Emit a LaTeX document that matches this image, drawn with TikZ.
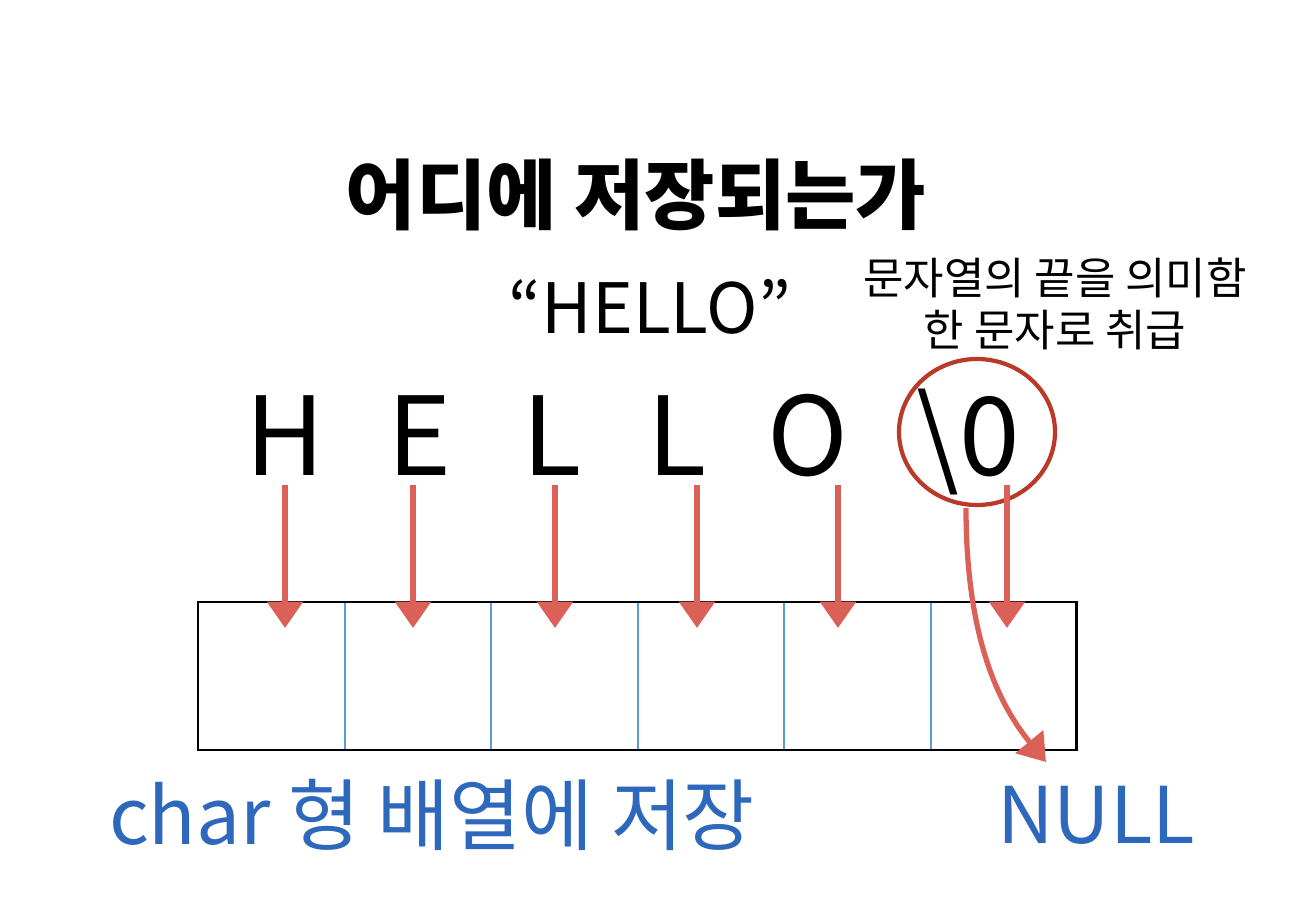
\documentclass[tikz,border=0pt]{standalone}
\usepackage{fontspec}
\setmainfont{Noto Sans CJK KR}
\usepackage{tikz}
\usetikzlibrary{arrows.meta}

\definecolor{chalkred}{HTML}{DB6158}
\definecolor{ringred}{HTML}{B93A28}
\definecolor{textblue}{HTML}{2E68BD}
\definecolor{cellblue}{HTML}{5A9BD5}

\tikzset{
  letter/.style={font=\fontsize{62}{62}\selectfont, anchor=base},
  chalk/.style={draw=chalkred, line width=3pt, -{Triangle[width=20pt,length=15pt]}},
  bluetext/.style={text=textblue, font=\fontsize{44.5}{44.5}\selectfont},
}

\begin{document}
\begin{tikzpicture}[x=0.02cm,y=-0.02cm]
\useasboundingbox (0,0) rectangle (1296,916);

% heading
\node (title) at (636,195) {\fontsize{43.5}{43.5}\selectfont\bfseries 어디에 저장되는가};
\node[anchor=base] (word) at (650,333) {\fontsize{39.5}{39.5}\selectfont “HELLO”};
\node[align=center, font=\fontsize{25}{29.5}\selectfont] (note) at (1055,304) {문자열의 끝을 의미함\\한 문자로 취급};

% the letters
\node[letter] (h) at (285,475) {H};
\node[letter] (e) at (420,475) {E};
\node[letter] (l1) at (552,475) {L};
\node[letter] (l2) at (677,475) {L};
\node[letter] (o) at (808,475) {O};
\node[letter] (nul) at (968,475) {\textbackslash 0};
\draw[ringred, line width=2.4pt] (977,432) ellipse [x radius=78, y radius=73];

% the array
\draw[cellblue, line width=0.6pt] (345,602)--(345,750);
\draw[cellblue, line width=0.6pt] (491,602)--(491,750);
\draw[cellblue, line width=0.6pt] (638,602)--(638,750);
\draw[cellblue, line width=0.6pt] (784,602)--(784,750);
\draw[cellblue, line width=0.6pt] (931,602)--(931,750);
\draw[line width=1.7pt] (198,602) rectangle (1076,750);

% arrows into the cells
\coordinate (h0) at (285,485);  \coordinate (h1) at (285,628);
\coordinate (e0) at (413,485);  \coordinate (e1) at (413,628);
\coordinate (la0) at (555,485); \coordinate (la1) at (555,628);
\coordinate (lb0) at (697,485); \coordinate (lb1) at (697,628);
\coordinate (o0) at (838,485);  \coordinate (o1) at (838,628);
\coordinate (z0) at (1007,485); \coordinate (z1) at (1007,628);
\draw[chalk] (h0)--(h1);
\draw[chalk] (e0)--(e1);
\draw[chalk] (la0)--(la1);
\draw[chalk] (lb0)--(lb1);
\draw[chalk] (o0)--(o1);
\draw[chalk] (z0)--(z1);

\coordinate (c0) at (966,508);
\coordinate (c1) at (1046,762);
\draw[chalk] (c0) .. controls (966,630) and (995,700) .. (c1);

% labels below
\node[bluetext] (arr) at (432,815) {char 형 배열에 저장};
\node[bluetext, anchor=base] (null) at (1096,843) {NULL};
\end{tikzpicture}
\end{document}
